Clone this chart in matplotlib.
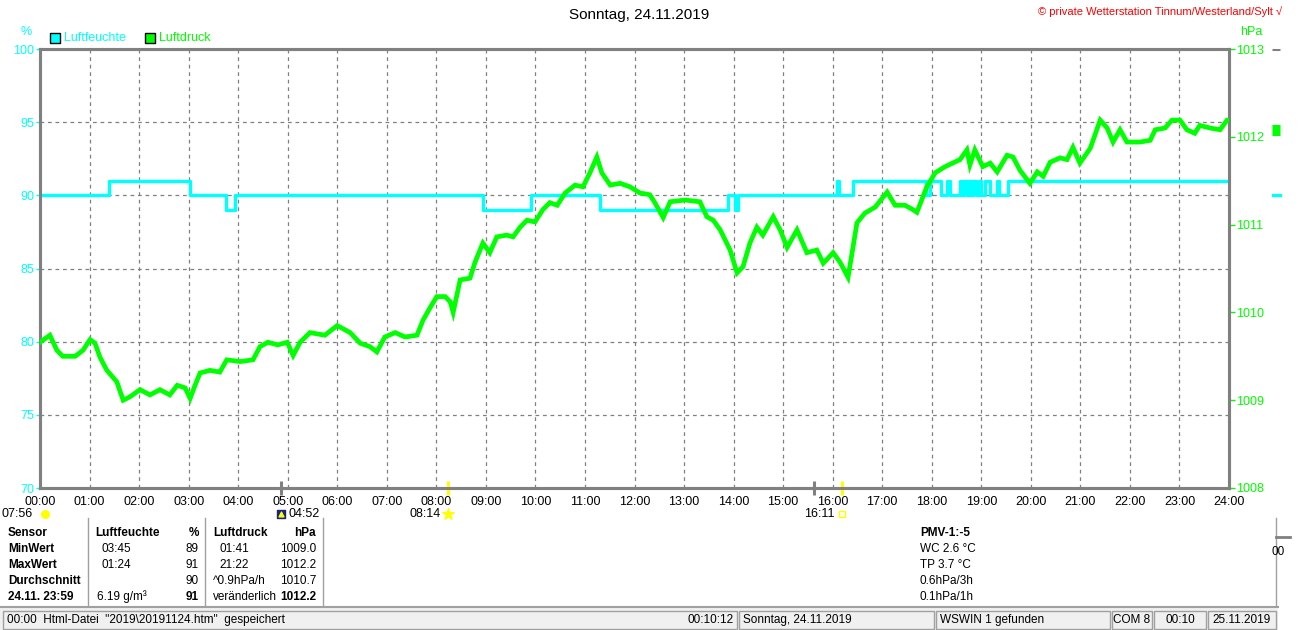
import matplotlib
matplotlib.use("Agg")
import matplotlib.pyplot as plt
import matplotlib.transforms as mtransforms
from matplotlib.patches import Rectangle

W, H = 1310, 630
plt.rcParams["font.family"] = ["Liberation Sans", "DejaVu Sans"]

CYAN = "#00ffff"
GREEN = "#00ff00"
GREY = "#808080"
YELLOW = "#ffff00"

# Luftfeuchte (%), step values, time in hours
hum_t = [0.00, 1.40, 3.03, 3.75, 3.94, 8.94, 9.91, 11.30, 13.89, 14.03, 14.09,
         16.08, 16.12, 16.41, 17.88, 17.96, 18.19, 18.30, 18.37,
         18.57, 18.62, 18.66, 18.71, 18.75, 18.80, 18.84, 18.90, 18.95, 19.00,
         19.07, 19.18, 19.31, 19.35, 19.40, 19.54, 24.00]
hum_v = [90, 91, 90, 89, 90, 89, 90, 89, 90, 89, 90,
         91, 90, 91, 90, 91, 90, 91, 90,
         91, 90, 91, 90, 91, 90, 91, 90, 91, 90,
         91, 90, 91, 90, 90, 91, 91]

# Luftdruck (hPa)
pres_t = [0.00, 0.20, 0.34, 0.46, 0.71, 0.87, 1.01, 1.11, 1.21, 1.35, 1.55, 1.68,
          1.82, 2.02, 2.22, 2.42, 2.62, 2.77, 2.93, 3.03, 3.13, 3.23, 3.43, 3.63,
          3.77, 4.04, 4.30, 4.44, 4.60, 4.80, 4.99, 5.11, 5.25, 5.45, 5.75, 6.00,
          6.26, 6.46, 6.66, 6.80, 6.96, 7.17, 7.37, 7.61, 7.73, 7.87, 8.01, 8.18,
          8.28, 8.34, 8.48, 8.68, 8.78, 8.94, 9.08, 9.22, 9.42, 9.55, 9.69, 9.83,
          9.99, 10.15, 10.29, 10.44, 10.60, 10.80, 10.96, 11.10, 11.24, 11.34, 11.51,
          11.71, 11.91, 12.11, 12.31, 12.41, 12.58, 12.72, 13.02, 13.32, 13.46, 13.59,
          13.73, 13.93, 14.07, 14.19, 14.33, 14.47, 14.59, 14.80, 14.94, 15.08, 15.28,
          15.48, 15.68, 15.81, 16.01, 16.15, 16.31, 16.41, 16.49, 16.65, 16.86, 17.10,
          17.26, 17.46, 17.62, 17.70, 17.90, 18.07, 18.27, 18.57, 18.71, 18.77, 18.87,
          19.03, 19.18, 19.32, 19.52, 19.64, 19.78, 19.98, 20.13, 20.25, 20.39, 20.59,
          20.73, 20.85, 20.99, 21.20, 21.40, 21.54, 21.66, 21.80, 21.94, 22.20, 22.41,
          22.51, 22.71, 22.85, 23.01, 23.15, 23.31, 23.41, 23.62, 23.82, 23.96, 24.00]
pres_v = [1009.66, 1009.74, 1009.57, 1009.50, 1009.50, 1009.57, 1009.69, 1009.65,
          1009.49, 1009.34, 1009.21, 1009.00, 1009.04, 1009.12, 1009.06, 1009.12,
          1009.06, 1009.17, 1009.14, 1009.02, 1009.17, 1009.31, 1009.34, 1009.32,
          1009.46, 1009.44, 1009.46, 1009.61, 1009.66, 1009.63, 1009.66, 1009.51,
          1009.66, 1009.77, 1009.74, 1009.85, 1009.77, 1009.65, 1009.61, 1009.55,
          1009.72, 1009.77, 1009.72, 1009.74, 1009.91, 1010.05, 1010.18, 1010.18,
          1010.12, 1010.00, 1010.37, 1010.39, 1010.57, 1010.79, 1010.68, 1010.86,
          1010.88, 1010.86, 1010.97, 1011.05, 1011.03, 1011.17, 1011.25, 1011.22,
          1011.36, 1011.45, 1011.43, 1011.59, 1011.77, 1011.59, 1011.45, 1011.47,
          1011.43, 1011.36, 1011.34, 1011.25, 1011.08, 1011.26, 1011.28, 1011.26,
          1011.09, 1011.05, 1010.94, 1010.71, 1010.45, 1010.52, 1010.79, 1010.97,
          1010.88, 1011.09, 1010.94, 1010.74, 1010.94, 1010.68, 1010.71, 1010.56,
          1010.68, 1010.57, 1010.40, 1010.74, 1011.02, 1011.13, 1011.20, 1011.37,
          1011.22, 1011.22, 1011.17, 1011.14, 1011.43, 1011.59, 1011.66, 1011.74,
          1011.85, 1011.68, 1011.85, 1011.66, 1011.70, 1011.60, 1011.79, 1011.77,
          1011.62, 1011.47, 1011.60, 1011.55, 1011.71, 1011.76, 1011.74, 1011.88,
          1011.70, 1011.87, 1012.19, 1012.10, 1011.94, 1012.08, 1011.94, 1011.94,
          1011.96, 1012.08, 1012.10, 1012.19, 1012.19, 1012.08, 1012.04, 1012.13,
          1012.10, 1012.08, 1012.19, 1012.19]

hour_labels = [f"{h:02d}:00" for h in range(25)]
hum_ticks = [70, 75, 80, 85, 90, 95, 100]
pres_ticks = [1008, 1009, 1010, 1011, 1012, 1013]

# sun / moon events below the time axis
astro_t = [0.0, 4.87, 8.23, 16.18]
astro_lbl = ["07:56", "04:52", "08:14", "16:11"]
axis_marks_t = [4.87, 15.62, 8.23, 16.18]
axis_marks_c = [GREY, GREY, YELLOW, YELLOW]

# beginning of next day's panel, cut off at the right edge
next_hum = 90
next_pres = 1012.08

table_rows = [
    ["Sensor", "Luftfeuchte", "%", "Luftdruck", "hPa"],
    ["MinWert", "03:45", "89", "01:41", "1009.0"],
    ["MaxWert", "01:24", "91", "21:22", "1012.2"],
    ["Durchschnitt", "", "90", "^0.9hPa/h", "1010.7"],
    ["24.11. 23:59", "6.19 g/m³", "91", "veränderlich", "1012.2"],
]
info_lines = ["PMV-1:-5", "WC 2.6 °C", "TP 3.7 °C", "0.6hPa/3h", "0.1hPa/1h"]
status_cells = [
    ("00:00  Html-Datei  \"2019\\20191124.htm\"  gespeichert", "00:10:12", 3, 737),
    ("Sonntag, 24.11.2019", "", 739, 934),
    ("WSWIN 1 gefunden", "", 936, 1110),
    ("COM 8", "", 1112, 1152),
    ("00:10", "", 1154, 1206),
    ("25.11.2019", "", 1208, 1276),
]

FS = 8.5


def fx(x):
    return x / W


def fy(y):
    return 1 - y / H


fig = plt.figure(figsize=(W / 100, H / 100), dpi=100)
fig.patch.set_facecolor("white")

ax = fig.add_axes([fx(40), fy(488), fx(1229) - fx(40), fy(49) - fy(488)])
axp = ax.twinx()

ax.set_xlim(0, 24)
ax.set_ylim(70, 100)
axp.set_ylim(1008, 1013)

for h in range(1, 24):
    ax.axvline(h, color=GREY, lw=0.9, ls=(0, (3, 3)), zorder=0)
for v in hum_ticks[1:-1]:
    ax.axhline(v, color=GREY, lw=0.9, ls=(0, (3, 3)), zorder=0)

ax.plot(hum_t, hum_v, color=CYAN, lw=2.4, drawstyle="steps-post", zorder=3)
axp.plot(pres_t, pres_v, color=GREEN, lw=3.4, zorder=3, solid_joinstyle="miter")

for a in (ax, axp):
    for s in a.spines.values():
        s.set_color(GREY)
        s.set_linewidth(2.2)

ax.set_xticks(range(25))
ax.set_xticklabels(hour_labels)
ax.tick_params(axis="x", length=0, pad=6, labelsize=9, labelcolor="black")
ax.set_yticks(hum_ticks)
ax.tick_params(axis="y", length=3, width=1, color=CYAN, labelcolor=CYAN,
               labelsize=9, pad=1)
axp.set_yticks(pres_ticks)
axp.tick_params(axis="y", length=4, width=1, color=GREEN, labelcolor=GREEN,
                labelsize=9, pad=1)

# marks on the time axis
trans = mtransforms.blended_transform_factory(ax.transData, ax.transAxes)
for t, c in zip(axis_marks_t, axis_marks_c):
    ax.plot([t, t], [-0.016, 0.016], color=c, lw=2.2, transform=trans,
            clip_on=False, zorder=5, solid_capstyle="butt")

lbl_y = -0.06
for t, lbl in zip(astro_t, astro_lbl):
    if lbl == "04:52":
        ax.scatter([t], [lbl_y], marker="s", s=40, color="#1a237e",
                   transform=trans, clip_on=False, zorder=6)
        ax.scatter([t], [lbl_y], marker="^", s=12, color=YELLOW,
                   transform=trans, clip_on=False, zorder=7)
        ax.annotate(lbl, (t, lbl_y), xycoords=trans, xytext=(5, 0),
                    textcoords="offset points", ha="left", va="center", fontsize=9)
    else:
        if lbl == "08:14":
            ax.scatter([t], [lbl_y], marker="*", s=70, color=YELLOW,
                       transform=trans, clip_on=False, zorder=6)
        elif lbl == "16:11":
            ax.scatter([t], [lbl_y], marker="s", s=18, facecolor="none",
                       edgecolor=YELLOW, lw=1, transform=trans, clip_on=False, zorder=6)
        else:
            ax.scatter([t + 0.1], [lbl_y], marker="o", s=30, color=YELLOW,
                       transform=trans, clip_on=False, zorder=6)
        ax.annotate(lbl, (t, lbl_y), xycoords=trans, xytext=(-5, 0),
                    textcoords="offset points", ha="right", va="center", fontsize=9)

# axis unit labels and legend
fig.text(fx(26), fy(32), "%", color=CYAN, fontsize=9, ha="center", va="center")
fig.text(fx(1240), fy(32), "hPa", color=GREEN, fontsize=9, ha="left", va="center")
for x0, col, txt in [(50, CYAN, "Luftfeuchte"), (145, GREEN, "Luftdruck")]:
    fig.patches.append(Rectangle((fx(x0), fy(43)), fx(10), fy(33) - fy(43),
                                 transform=fig.transFigure, facecolor=col,
                                 edgecolor="black", lw=1))
    fig.text(fx(x0 + 14), fy(38), txt, color=col, fontsize=9, ha="left", va="center")

fig.text(fx(639), fy(15), "Sonntag, 24.11.2019", fontsize=11, ha="center", va="center")
fig.text(fx(1282), fy(12), "© private Wetterstation Tinnum/Westerland/Sylt √",
         color="#ff0000", fontsize=8, ha="right", va="center")

# cut-off next panel
axn = fig.add_axes([fx(1272), fy(488), fx(12), fy(49) - fy(488)])
axn.set_xlim(0, 1)
axn.set_ylim(70, 100)
axn.axis("off")
axnp = axn.twinx()
axnp.set_ylim(1008, 1013)
axnp.axis("off")
axn.plot([0, 0.65], [next_hum, next_hum], color=CYAN, lw=2.4)
axnp.plot([0, 0.65], [next_pres, next_pres], color=GREEN, lw=8, solid_capstyle="butt")
axnp.plot([0, 0.65], [1013, 1013], color=GREY, lw=2.2, solid_capstyle="butt")

# table
row_y = [533, 549, 565, 581, 597]
col_x = [(8, "left"), (95, "left"), (199, "right"), (213, "left"), (316, "right")]
for r, row in enumerate(table_rows):
    for c, txt in enumerate(row):
        x0, ha = col_x[c]
        if r > 0 and c in (1, 3) and txt and txt[0].isdigit() and ":" in txt:
            x0 += 6
        if r == 4 and c == 1:
            x0 += 2
        bold = r == 0 or c == 0 or (r == 4 and c in (2, 4))
        fig.text(fx(x0), fy(row_y[r]), txt, fontsize=FS, ha=ha, va="center",
                 weight="bold" if bold else "normal")
for x0 in (88, 205, 323):
    fig.add_artist(plt.Line2D([fx(x0), fx(x0)], [fy(518), fy(606)], color="#a0a0a0",
                              lw=1, transform=fig.transFigure))
fig.add_artist(plt.Line2D([fx(1276), fx(1276)], [fy(518), fy(606)], color="#a0a0a0",
                          lw=1, transform=fig.transFigure))
fig.add_artist(plt.Line2D([fx(1276), fx(1290)], [fy(537), fy(537)], color=GREY,
                          lw=2, transform=fig.transFigure))
fig.text(fx(1272), fy(552), "00", fontsize=FS, ha="left", va="center")

for i, txt in enumerate(info_lines):
    fig.text(fx(920), fy(row_y[i]), txt, fontsize=FS, ha="left", va="center",
             weight="bold" if i == 0 else "normal")

# status bar
fig.patches.append(Rectangle((0, 0), fx(1278), fy(607), transform=fig.transFigure,
                             facecolor="#f0f0f0", edgecolor="none"))
fig.add_artist(plt.Line2D([0, fx(1278)], [fy(607), fy(607)], color="#a0a0a0",
                          lw=1.5, transform=fig.transFigure))
for left_txt, right_txt, x0, x1 in status_cells:
    fig.patches.append(Rectangle((fx(x0), fy(629)), fx(x1 - x0), fy(611) - fy(629),
                                 transform=fig.transFigure, facecolor="#f0f0f0",
                                 edgecolor="#a0a0a0", lw=1))
    if x1 - x0 < 80:
        fig.text(fx((x0 + x1) / 2), fy(620), left_txt, fontsize=FS,
                 ha="center", va="center")
    else:
        fig.text(fx(x0 + 4), fy(620), left_txt, fontsize=FS, ha="left", va="center")
    if right_txt:
        fig.text(fx(x1 - 3), fy(620), right_txt, fontsize=FS, ha="right", va="center")

fig.savefig("out.png", dpi=100)
